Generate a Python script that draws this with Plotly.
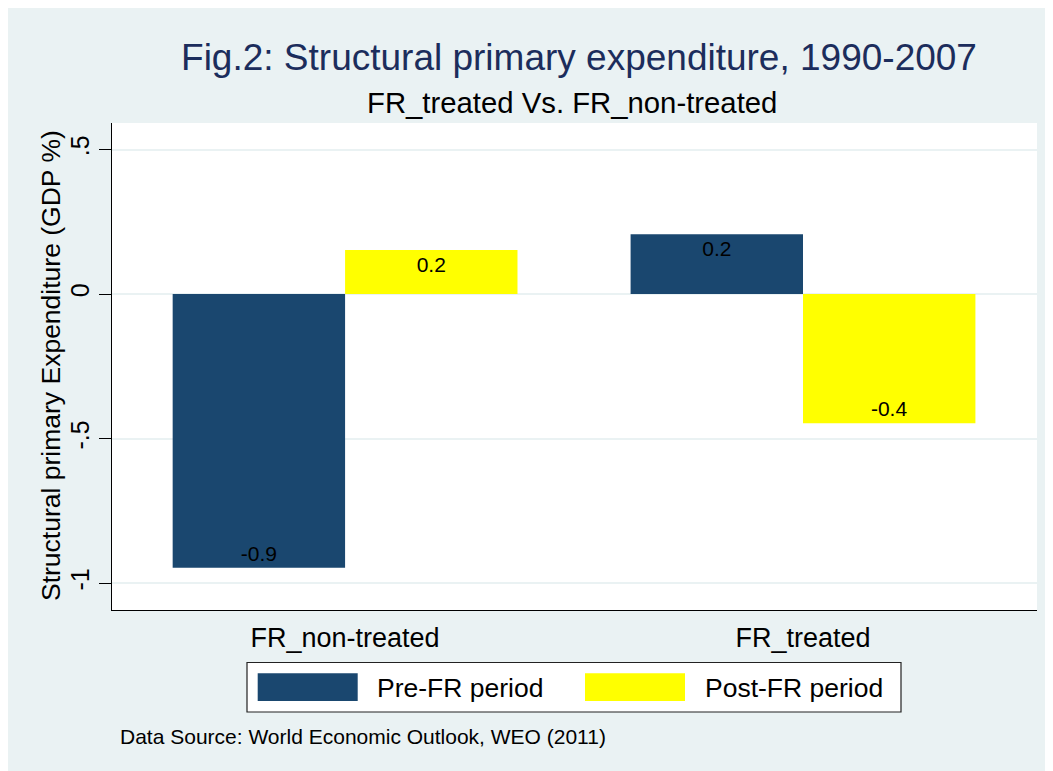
import plotly.graph_objects as go

# ---- data ----
categories = ["FR_non-treated", "FR_treated"]
series_names = ["Pre-FR period", "Post-FR period"]
pre_fr = [-0.947, 0.207]
post_fr = [0.153, -0.447]
series_values = [pre_fr, post_fr]
series_colors = ["#1a476f", "#ffff00"]
y_tickvals = [-1, -0.5, 0, 0.5]
y_ticktext = ["-1", "-.5", "0", ".5"]

title_text = "Fig.2: Structural primary expenditure, 1990-2007"
subtitle_text = "FR_treated Vs. FR_non-treated"
ytitle_text = "Structural primary Expenditure (GDP %)"
note_text = "Data Source: World Economic Outlook, WEO (2011)"

FONT = "Liberation Sans, Arial, Helvetica, sans-serif"
BG = "#eaf2f3"

W, H = 1053, 771
OFF = 8  # page offset of the figure in the screenshot
# plot area in screenshot pixels
L, R, T, B = 112, 1037, 123, 610


def px(x):
    return (x - L) / (R - L)


def py(y):
    return (B - y) / (B - T)


fig = go.Figure()
for name, vals, col in zip(series_names, series_values, series_colors):
    fig.add_trace(go.Bar(
        x=categories, y=vals, name=name,
        marker=dict(color=col, line=dict(width=0)),
        texttemplate="%{y:.1f}", textposition="inside", insidetextanchor="end",
        textangle=0, constraintext="none",
        insidetextfont=dict(family=FONT, size=21, color="black"),
        showlegend=False,
    ))

shapes = []
annotations = []
# legend box
shapes.append(dict(type="rect", xref="paper", yref="paper", x0=px(247), x1=px(901), y0=py(712), y1=py(662.5),
                   fillcolor="white", line=dict(color="#222222", width=1.2), layer="above"))
legend_swatch_x = [257.7, 585]
legend_text_x = [375, 702.7]
for name, col, sx, tx in zip(series_names, series_colors, legend_swatch_x, legend_text_x):
    shapes.append(dict(type="rect", xref="paper", yref="paper", x0=px(sx), x1=px(sx + 100),
                       y0=py(701), y1=py(673.3), fillcolor=col, line=dict(width=0), layer="above"))
    annotations.append(dict(text=name, xref="paper", yref="paper", x=px(tx), y=py(688),
                            xanchor="left", yanchor="middle", showarrow=False,
                            font=dict(family=FONT, size=26.5, color="black")))

annotations.append(dict(text=subtitle_text, xref="paper", yref="paper", x=px(572.4), y=py(102),
                        xanchor="center", yanchor="middle", showarrow=False,
                        font=dict(family=FONT, size=29.3, color="black")))
annotations.append(dict(text=note_text, xref="paper", yref="paper", x=px(118.3), y=py(736),
                        xanchor="left", yanchor="middle", showarrow=False,
                        font=dict(family=FONT, size=21, color="black")))
annotations.append(dict(text=ytitle_text, xref="paper", yref="paper", x=px(51), y=py(366),
                        xanchor="center", yanchor="middle", textangle=-90, showarrow=False,
                        font=dict(family=FONT, size=26.5, color="black")))

fig.update_layout(
    width=W, height=H,
    margin=dict(l=L - OFF, r=W - (R - OFF), t=T - OFF, b=H - (B - OFF), pad=0),
    paper_bgcolor=BG, plot_bgcolor="white",
    font=dict(family=FONT, color="black"),
    title=dict(text=title_text, x=px(579), xanchor="center", xref="paper",
               y=1 - (57.5 - OFF) / H, yanchor="middle", yref="container",
               font=dict(family=FONT, size=37, color="#1c2d5c")),
    barmode="group", bargap=0.247, bargroupgap=0,
    shapes=shapes, annotations=annotations,
    showlegend=False,
)
fig.update_xaxes(
    type="category", range=[-0.509, 1.511],
    showline=True, linecolor="black", linewidth=1.2, mirror=False,
    ticks="", showgrid=False, zeroline=False,
    tickfont=dict(family=FONT, size=27, color="black"),
    ticklabelstandoff=3,
)
fig.update_yaxes(
    range=[-1.093, 0.592],
    tickvals=y_tickvals, ticktext=y_ticktext, tickangle=-90,
    ticks="outside", ticklen=12, tickcolor="black", tickwidth=1,
    showline=True, linecolor="black", linewidth=1.2,
    showgrid=True, gridcolor=BG, gridwidth=2, zeroline=False,
    tickfont=dict(family=FONT, size=25, color="black"),
)

fig.write_html("out.html")
